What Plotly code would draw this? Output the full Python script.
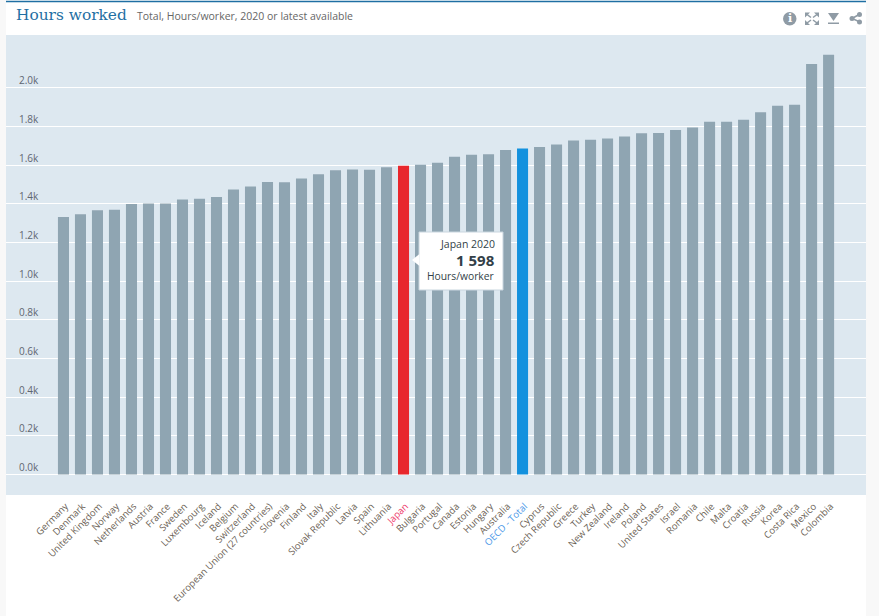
import plotly.graph_objects as go

countries = ["Germany","Denmark","United Kingdom","Norway","Netherlands","Austria","France","Sweden","Luxembourg","Iceland","Belgium","Switzerland","European Union (27 countries)","Slovenia","Finland","Italy","Slovak Republic","Latvia","Spain","Lithuania","Japan","Bulgaria","Portugal","Canada","Estonia","Hungary","Australia","OECD - Total","Cyprus","Czech Republic","Greece","Turkey","New Zealand","Ireland","Poland","United States","Israel","Romania","Chile","Malta","Croatia","Russia","Korea","Costa Rica","Mexico","Colombia"]
hours = [1332,1346,1367,1370,1399,1402,1402,1423,1427,1436,1474,1490,1513,1512,1531,1554,1574,1578,1577,1590,1598,1603,1613,1644,1655,1657,1679,1687,1695,1707,1728,1732,1739,1749,1766,1767,1783,1795,1825,1825,1835,1874,1908,1913,2124,2172]
y_ticks = [0,200,400,600,800,1000,1200,1400,1600,1800,2000]
y_labels = ["0.0k","0.2k","0.4k","0.6k","0.8k","1.0k","1.2k","1.4k","1.6k","1.8k","2.0k"]
highlight = {"Japan":"#e8272d","OECD - Total":"#1391de"}
label_colors = {"Japan":"#ee3a6a","OECD - Total":"#4a98e8"}

W, H = 879, 616
L, R, T, B = 6, 866, 35, 495
def px(x): return (x - L) / (R - L)
def py(y): return (B - y) / (B - T)

bar_colors = [highlight.get(c, "#8fa5b2") for c in countries]
tick_text = [f'<span style="color:{label_colors.get(c,"#6b5f55")}">{c}</span>' for c in countries]

fig = go.Figure(go.Bar(x=countries, y=hours, marker=dict(color=bar_colors, line_width=0), width=0.65, showlegend=False, hoverinfo="skip"))

def P(**k):
    return dict(xref="paper", yref="paper", **k)

gray = "#f8f8f8"
shapes = [
    P(type="rect", x0=px(0), x1=px(6), y0=py(H), y1=py(0), fillcolor=gray, line_width=0, layer="below"),
    P(type="rect", x0=px(866), x1=px(W), y0=py(H), y1=py(0), fillcolor=gray, line_width=0, layer="below"),
    P(type="line", x0=px(6), x1=px(866), y0=py(1.5), y1=py(1.5), line=dict(color="#1f6fa3", width=1.5)),
    # tooltip box + pointer
    P(type="rect", x0=px(419), x1=px(503), y0=py(290), y1=py(232), fillcolor="white", line=dict(color="#c9d6df", width=1)),
    P(type="path", path=f"M {px(419.5)} {py(254)} L {px(412)} {py(260)} L {px(419.5)} {py(266)} Z", fillcolor="white", line_width=0),
]
ic = "#8f9ba5"
# info icon
shapes.append(P(type="circle", x0=px(783), x1=px(796.5), y0=py(25.5), y1=py(12), fillcolor=ic, line_width=0))
# expand icon
for (cx, cy, dx, dy) in [(805,12.5,1,1),(819,12.5,-1,1),(805,25,1,-1),(819,25,-1,-1)]:
    shapes.append(P(type="path", path=f"M {px(cx)} {py(cy)} L {px(cx+5*dx)} {py(cy)} L {px(cx)} {py(cy+5*dy)} Z", fillcolor=ic, line_width=0))
    shapes.append(P(type="line", x0=px(cx+2*dx), y0=py(cy+2*dy), x1=px(cx+6*dx), y1=py(cy+5*dy), line=dict(color=ic, width=1.5)))
# download icon
shapes.append(P(type="path", path=f"M {px(828)} {py(13)} L {px(839)} {py(13)} L {px(833.5)} {py(21)} Z", fillcolor=ic, line_width=0))
shapes.append(P(type="rect", x0=px(828), x1=px(839), y0=py(24), y1=py(22.5), fillcolor=ic, line_width=0))
# share icon
shapes.append(P(type="path", path=f"M {px(860)} {py(14)} L {px(852)} {py(18.5)} L {px(860)} {py(22)}", line=dict(color=ic, width=1.5)))
for (cx, cy, r) in [(859.5,14.5,2.5),(852,18.5,2.5),(859.5,22,2.5)]:
    shapes.append(P(type="circle", x0=px(cx-r), x1=px(cx+r), y0=py(cy+r), y1=py(cy-r), fillcolor=ic, line_width=0))

tip = "#333f48"
annotations = [
    P(text="Hours worked", x=px(16), y=py(15), xanchor="left", yanchor="middle", xshift=-2, showarrow=False, font=dict(family="DejaVu Serif", size=15.4, color="#1f6fa3")),
    P(text="Total, Hours/worker, 2020 or latest available", x=px(137), y=py(16), xanchor="left", yanchor="middle", xshift=-2, showarrow=False, font=dict(family="Open Sans", size=10.5, color="#666666")),
    P(text="<b>i</b>", x=px(789.7), y=py(18.7), xanchor="center", yanchor="middle", showarrow=False, font=dict(family="DejaVu Serif", size=11, color="white")),
    P(text="Japan 2020", x=px(495), y=py(244), xanchor="right", yanchor="middle", xshift=2, showarrow=False, font=dict(family="Open Sans", size=10.5, color=tip)),
    P(text="<b>1 598</b>", x=px(495), y=py(260), xanchor="right", yanchor="middle", xshift=2, showarrow=False, font=dict(family="Open Sans", size=15, color=tip)),
    P(text="Hours/worker", x=px(495), y=py(276), xanchor="right", yanchor="middle", xshift=2, showarrow=False, font=dict(family="Open Sans", size=10.3, color=tip)),
]

fig.update_layout(
    width=W, height=H, autosize=False,
    margin=dict(l=L, r=W-R, t=T, b=H-B, pad=0),
    paper_bgcolor="white", plot_bgcolor="#dde8f0",
    font=dict(family="Open Sans", size=10, color="#5f6670"),
    bargap=0.35, shapes=shapes, annotations=annotations,
    xaxis=dict(type="category", range=[-3.38, 47.2], tickmode="array", tickvals=countries, ticktext=tick_text,
               tickangle=-45, showgrid=False, ticks="", showline=False, zeroline=False,
               ticklabelstandoff=3, ticklabelshift=2,
               tickfont=dict(family="Open Sans", size=9.5, color="#6b5f55")),
    yaxis=dict(range=[-106, 2274], tickmode="array", tickvals=y_ticks, ticktext=y_labels, ticklabelposition="inside top",
               ticklabelstandoff=10,
               showgrid=True, gridcolor="white", gridwidth=1, zeroline=False, showline=False, ticks="",
               tickfont=dict(family="Open Sans", size=10, color="#5f6670")),
)
fig.write_html("out.html", config=dict(displayModeBar=False), post_script="document.body.style.margin='0';")
